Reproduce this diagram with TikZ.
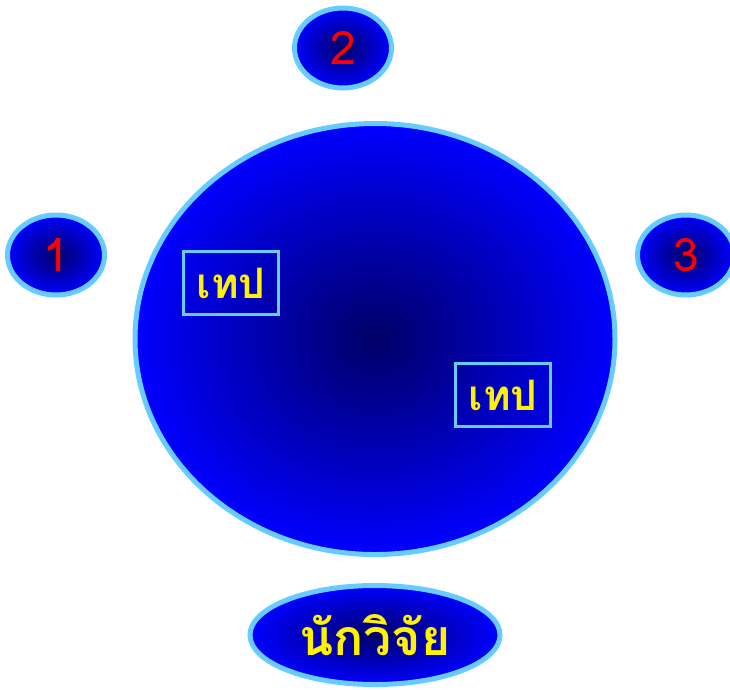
\documentclass[tikz,border=0pt]{standalone}
\usepackage{fontspec}
\newfontfamily\thaifont[Script=Thai]{Loma}
\usetikzlibrary{shapes.geometric}
\definecolor{rim}{HTML}{66CCFF}
\definecolor{deepnavy}{HTML}{000066}
\definecolor{plainblue}{HTML}{0000FF}

\begin{document}
\begin{tikzpicture}[x=1pt, y=-1pt,
    disc/.style={ellipse, draw=rim, line width=5pt, inner sep=0pt,
        inner color=deepnavy, outer color=plainblue},
    seat/.style={disc, minimum width=97pt, minimum height=80pt,
        text=red, font=\thaifont\fontsize{46}{46}\selectfont},
    tape/.style={draw=rim, line width=3pt, inner sep=0pt,
        minimum width=95pt, minimum height=63pt,
        text=yellow, font=\thaifont\bfseries\fontsize{42}{42}\selectfont}]
    \useasboundingbox (0,0) rectangle (730,689);

    % table
    \node[disc, minimum width=480pt, minimum height=431pt] (table) at (375,339) {};

    % seats round the table
    \node[seat] (seatone) at (56,255) {1};
    \node[seat] (seattwo) at (343,48) {2};
    \node[seat] (seatthree) at (686,255) {3};

    % tapes on the table
    \node[tape] (tapeone) at (231,283) {เทป};
    \node[tape] (tapetwo) at (503,395) {เทป};

    % researcher
    \node[disc, minimum width=250pt, minimum height=99pt,
        text=yellow, font=\thaifont\bfseries\fontsize{50}{50}\selectfont]
        (researcher) at (375,635) {นักวิจัย};
\end{tikzpicture}
\end{document}
